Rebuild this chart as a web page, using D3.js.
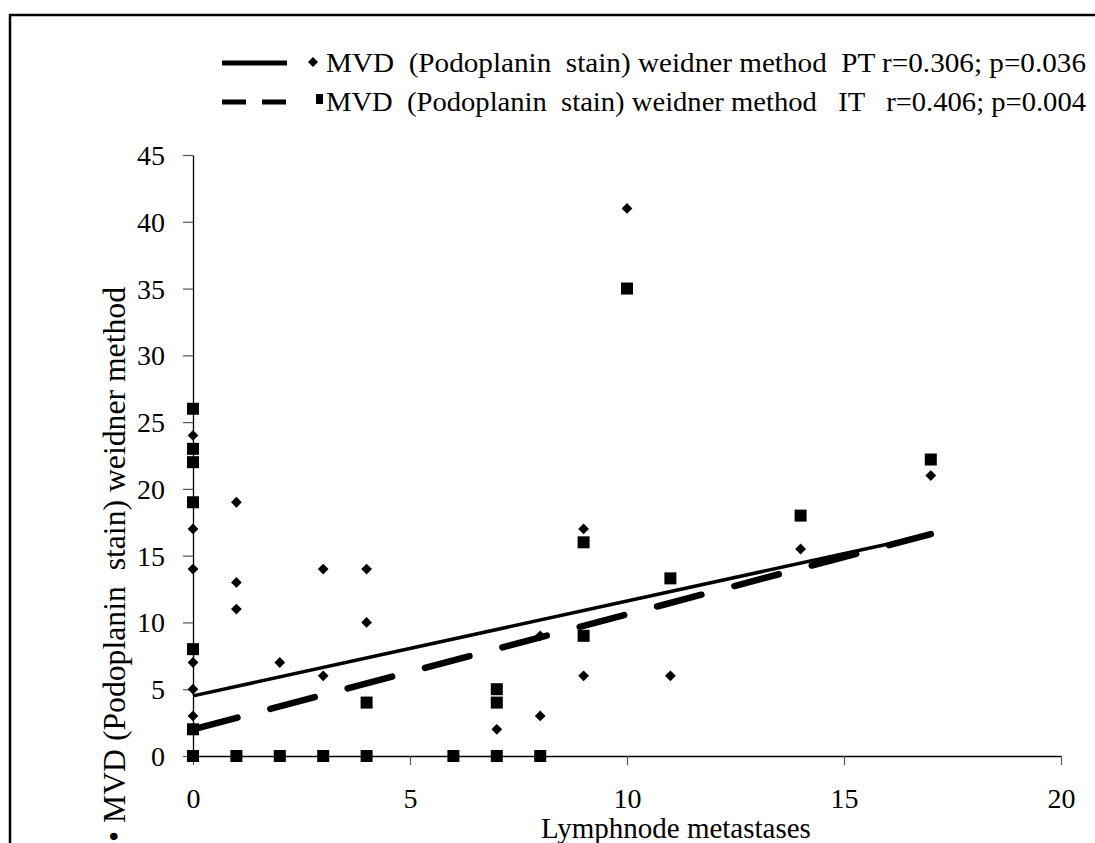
<!DOCTYPE html>
<html>
<head>
<meta charset="utf-8">
<script src="https://cdn.jsdelivr.net/npm/d3@7"></script>
<style>
  html, body { margin: 0; padding: 0; background: #fff; }
  svg { display: block; }
  svg text { font-family: "Liberation Serif", "Tinos", "Times New Roman", "DejaVu Serif", serif !important; fill: #000; white-space: pre; }
</style>
</head>
<body>
<svg id="chart" width="1095" height="843"></svg>
<script>
// ---- data ----
const ptX = [0, 0, 0, 0, 0, 0, 1, 1, 1, 2, 3, 3, 4, 4, 7, 8, 8, 9, 9, 10, 11, 14, 17];
const ptY = [24, 17, 14, 7, 5, 3, 19, 13, 11, 7, 14, 6, 14, 10, 2, 9, 3, 17, 6, 41, 6, 15.5, 21];
const itX = [0, 0, 0, 0, 0, 0, 0, 1, 2, 3, 4, 4, 6, 7, 7, 7, 8, 9, 9, 10, 11, 14, 17];
const itY = [26, 23, 22, 19, 8, 2, 0, 0, 0, 0, 4, 0, 0, 5, 4, 0, 0, 16, 9, 35, 13.3, 18, 22.2];
const trendPT = { intercept: 4.5, slope: 0.71, from: 0, to: 17 };
const trendIT = { intercept: 2.0, slope: 0.86, from: 0, to: 17 };
const xTicks = [0, 5, 10, 15, 20];
const yTicks = [0, 5, 10, 15, 20, 25, 30, 35, 40, 45];
const legendLabels = [
  "MVD  (Podoplanin  stain) weidner method  PT r=0.306; p=0.036",
  "MVD  (Podoplanin  stain) weidner method   IT   r=0.406; p=0.004"
];
const xTitle = "Lymphnode metastases";
const yTitle = "\u2022 MVD (Podoplanin  stain) weidner method";

// ---- drawing ----
const FONT = "'Liberation Serif', 'Tinos', 'Times New Roman', 'DejaVu Serif', serif";
const svg = d3.select("#chart");
const x = d3.scaleLinear().domain([0, 20]).range([193, 1061]);
const y = d3.scaleLinear().domain([0, 45]).range([756, 155]);

// frame
svg.append("path")
  .attr("d", "M10,843 L10,15 L1095,15")
  .attr("fill", "none").attr("stroke", "#000").attr("stroke-width", 2.5);

// axes
const xAxis = svg.append("g").attr("transform", `translate(0,${y(0)})`)
  .call(d3.axisBottom(x).tickValues(xTicks).tickSize(9).tickSizeOuter(0).tickFormat(d3.format("d")));
const yAxis = svg.append("g").attr("transform", `translate(${x(0)},0)`)
  .call(d3.axisLeft(y).tickValues(yTicks).tickSize(10).tickSizeOuter(0).tickFormat(d3.format("d")));
[xAxis, yAxis].forEach(g => {
  g.attr("font-family", FONT);
  g.select(".domain").attr("stroke", "#000").attr("stroke-width", 1.3);
  g.selectAll(".tick line").attr("stroke", "#555").attr("stroke-width", 1.2);
  g.selectAll(".tick text").style("font-family", FONT).attr("font-size", 28).attr("fill", "#000");
});
xAxis.selectAll(".tick text").attr("y", 0).attr("dy", 0).attr("transform", "translate(0,52)");
yAxis.selectAll(".tick text").attr("x", -28).attr("dy", "0.34em");

// markers
const diamond = d3.symbol().type(d3.symbolDiamond2).size(74);
svg.append("g").selectAll("path").data(ptX.map((d, i) => [d, ptY[i]])).join("path")
  .attr("d", diamond)
  .attr("transform", d => `translate(${x(d[0])},${y(d[1])})`)
  .attr("fill", "#000");
svg.append("g").selectAll("rect").data(itX.map((d, i) => [d, itY[i]])).join("rect")
  .attr("x", d => x(d[0]) - 6).attr("y", d => y(d[1]) - 6)
  .attr("width", 12).attr("height", 12).attr("fill", "#000");

// trend lines
function trendPath(t) {
  return d3.line()([[x(t.from), y(t.intercept + t.slope * t.from)], [x(t.to), y(t.intercept + t.slope * t.to)]]);
}
svg.append("path").attr("d", trendPath(trendPT))
  .attr("stroke", "#000").attr("stroke-width", 3.5).attr("fill", "none");
svg.append("path").attr("d", trendPath(trendIT))
  .attr("stroke", "#000").attr("stroke-width", 6.5).attr("fill", "none")
  .attr("stroke-linecap", "round").attr("stroke-dasharray", "46,34");

// legend
const leg = svg.append("g");
leg.append("line").attr("x1", 222).attr("x2", 287).attr("y1", 63).attr("y2", 63)
  .attr("stroke", "#000").attr("stroke-width", 5);
leg.append("line").attr("x1", 222).attr("x2", 287).attr("y1", 102).attr("y2", 102)
  .attr("stroke", "#000").attr("stroke-width", 5).attr("stroke-dasharray", "24,16");
leg.append("path").attr("d", d3.symbol().type(d3.symbolDiamond2).size(64))
  .attr("transform", "translate(313,62)").attr("fill", "#000");
leg.append("rect").attr("x", 316).attr("y", 94).attr("width", 7).attr("height", 10).attr("fill", "#000");
leg.append("text").attr("x", 326).attr("y", 72).attr("font-size", 28).style("font-family", FONT)
  .attr("textLength", 760).attr("lengthAdjust", "spacingAndGlyphs").text(legendLabels[0]);
leg.append("text").attr("x", 326).attr("y", 111).attr("font-size", 28).style("font-family", FONT)
  .attr("textLength", 760).attr("lengthAdjust", "spacingAndGlyphs").text(legendLabels[1]);

// axis titles
svg.append("text").attr("x", 676).attr("y", 838).attr("text-anchor", "middle").style("font-family", FONT)
  .attr("font-size", 29).text(xTitle);
svg.append("text").attr("transform", "translate(125,842) rotate(-90)").style("font-family", FONT)
  .attr("text-anchor", "start").attr("font-size", 31)
  .attr("textLength", 555).attr("lengthAdjust", "spacingAndGlyphs").text(yTitle);
</script>
</body>
</html>
